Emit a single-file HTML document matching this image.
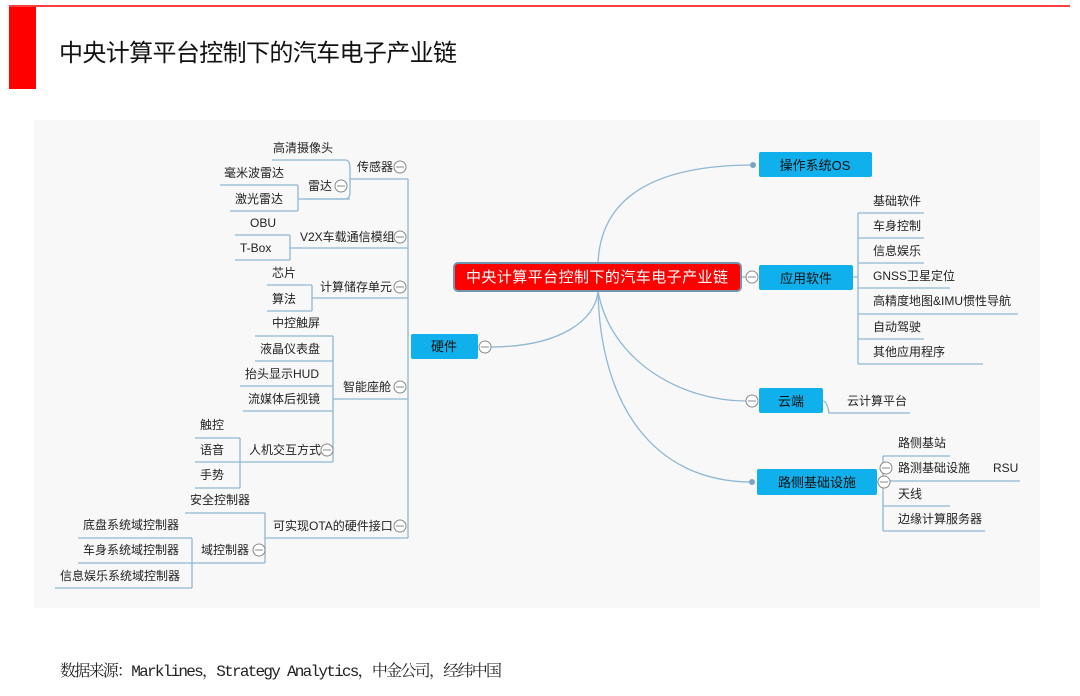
<!DOCTYPE html>
<html><head><meta charset="utf-8"><style>
html,body{margin:0;padding:0;background:#fff;width:1080px;height:696px;overflow:hidden}
svg{display:block}
text{font-family:"Liberation Sans","Noto Sans CJK SC",sans-serif;fill:#222}
.t{font-size:12px}
.b{font-size:13px;fill:#111}
</style></head><body>
<svg width="1080" height="696" viewBox="0 0 1080 696" xmlns="http://www.w3.org/2000/svg">
<rect x="9" y="6" width="27" height="83" fill="#ff0000"/>
<rect x="9" y="5" width="1061" height="2" fill="#ff4040"/>
<text x="59" y="61" style="font-size:24px;fill:#111" textLength="398">中央计算平台控制下的汽车电子产业链</text>
<rect x="34" y="120" width="1006" height="488" fill="#f8f8f8"/>

<g fill="none" stroke="#8fb8d4" stroke-width="1.3">
<path d="M598 264 C600 200,650 165,754 165"/>
<path d="M598 291 C596 320,560 347,490 347"/>
<path d="M741 277 L746 277"/>
<path d="M598 291 C610 360,680 401,746 401"/>
<path d="M598 291 C600 400,650 482,752 482"/>
<path d="M408 179 L408 538"/>
<path d="M345 160 L272 160 M345 160 Q350 160 350 168 L350 192 Q350 199 345 199 L305 199 M350 179 L408 179"/>
<path d="M298 185 L220 185 M298 211 L230 211 M298 185 L298 211 M298 199 L350 199"/>
<path d="M290 235 L235 235 M290 260 L235 260 M290 235 L290 260 M290 248 L408 248"/>
<path d="M312 285 L267 285 M312 311 L267 311 M312 285 L312 311 M312 298 L408 298"/>
<path d="M333 336 L255 336 M333 361 L255 361 M333 386 L240 386 M333 411 L243 411 M333 336 L333 462 M333 399 L408 399"/>
<path d="M240 438 L195 438 M240 462 L195 462 M240 488 L195 488 M240 438 L240 488 M240 462 L333 462"/>
<path d="M265 513 L185 513 M265 513 L265 563 M265 538 L408 538"/>
<path d="M192 538 L78 538 M192 563 L78 563 M192 588 L55 588 M192 538 L192 588 M192 563 L265 563"/>
<path d="M858 213 L924 213 M858 238 L924 238 M858 263 L924 263 M858 288 L950 288 M858 314 L1018 314 M858 339 L924 339 M858 364 L983 364 M858 213 L858 364 M853 277 L858 277"/>
<path d="M823 401 Q827 401 829 413 L910 413"/>
<path d="M883 456 L950 456 M883 481 L1020 481 M883 506 L950 506 M883 531 L985 531 M883 456 L883 531 M877 482 L883 482"/>
</g>
<g fill="#7aa6c4"><circle cx="753" cy="165" r="3"/><circle cx="752" cy="482" r="3"/></g>

<g fill="#fff" stroke="#888" stroke-width="1">
<circle cx="400" cy="167" r="6"/><circle cx="341" cy="186" r="6"/><circle cx="400" cy="237" r="6"/><circle cx="400" cy="287" r="6"/><circle cx="400" cy="387" r="6"/><circle cx="327" cy="450" r="6"/><circle cx="400" cy="526" r="6"/><circle cx="259" cy="550" r="6"/><circle cx="485" cy="347" r="6"/><circle cx="752" cy="277" r="6"/><circle cx="752" cy="401" r="6"/><circle cx="884" cy="482" r="6"/><circle cx="886" cy="468" r="6"/>
</g>
<g stroke="#888" stroke-width="1">
<path d="M396 167h8M337 186h8M396 237h8M396 287h8M396 387h8M323 450h8M396 526h8M255 550h8M481 347h8M748 277h8M748 401h8M880 482h8M882 468h8"/>
</g>

<rect x="454" y="263" width="287" height="28" rx="4" fill="#ff0000" stroke="#7394ad" stroke-width="2"/>
<text x="597" y="282" text-anchor="middle" style="font-size:15px;fill:#fff" textLength="262">中央计算平台控制下的汽车电子产业链</text>
<g fill="#0fb0ec">
<rect x="411" y="334" width="67" height="25" rx="2"/>
<rect x="759" y="152" width="113" height="25" rx="2"/>
<rect x="759" y="265" width="94" height="25" rx="2"/>
<rect x="759" y="388" width="64" height="25" rx="2"/>
<rect x="757" y="469" width="120" height="26" rx="2"/>
</g>
<g class="b" text-anchor="middle">
<text class="b" x="444" y="351" text-anchor="middle">硬件</text>
<text class="b" x="815" y="170" text-anchor="middle">操作系统OS</text>
<text class="b" x="806" y="283" text-anchor="middle">应用软件</text>
<text class="b" x="791" y="406" text-anchor="middle">云端</text>
<text class="b" x="817" y="487" text-anchor="middle">路侧基础设施</text>
</g>

<g class="t">
<text class="t" x="357" y="171">传感器</text>
<text class="t" x="308" y="190">雷达</text>
<text class="t" x="273" y="152">高清摄像头</text>
<text class="t" x="224" y="177">毫米波雷达</text>
<text class="t" x="235" y="203">激光雷达</text>
<text class="t" x="250" y="227">OBU</text>
<text class="t" x="240" y="252">T-Box</text>
<text class="t" x="300" y="241">V2X车载通信模组</text>
<text class="t" x="272" y="277">芯片</text>
<text class="t" x="272" y="303">算法</text>
<text class="t" x="320" y="291">计算储存单元</text>
<text class="t" x="272" y="327">中控触屏</text>
<text class="t" x="260" y="353">液晶仪表盘</text>
<text class="t" x="245" y="378">抬头显示HUD</text>
<text class="t" x="248" y="403">流媒体后视镜</text>
<text class="t" x="343" y="391">智能座舱</text>
<text class="t" x="200" y="429">触控</text>
<text class="t" x="200" y="454">语音</text>
<text class="t" x="200" y="479">手势</text>
<text class="t" x="249" y="454">人机交互方式</text>
<text class="t" x="190" y="504">安全控制器</text>
<text class="t" x="273" y="530">可实现OTA的硬件接口</text>
<text class="t" x="83" y="529">底盘系统域控制器</text>
<text class="t" x="83" y="554">车身系统域控制器</text>
<text class="t" x="60" y="580">信息娱乐系统域控制器</text>
<text class="t" x="201" y="554">域控制器</text>
<text class="t" x="873" y="205">基础软件</text>
<text class="t" x="873" y="230">车身控制</text>
<text class="t" x="873" y="255">信息娱乐</text>
<text class="t" x="873" y="280">GNSS卫星定位</text>
<text class="t" x="873" y="305">高精度地图&amp;IMU惯性导航</text>
<text class="t" x="873" y="331">自动驾驶</text>
<text class="t" x="873" y="356">其他应用程序</text>
<text class="t" x="847" y="405">云计算平台</text>
<text class="t" x="898" y="447">路侧基站</text>
<text class="t" x="898" y="472">路测基础设施</text>
<text class="t" x="993" y="472">RSU</text>
<text class="t" x="898" y="498">天线</text>
<text class="t" x="898" y="523">边缘计算服务器</text>
</g>

<text x="60" y="676" style="font-family:'Liberation Mono','Noto Serif CJK SC',monospace;font-size:16px;fill:#222" textLength="442">数据来源：Marklines，Strategy Analytics，中金公司，经纬中国</text>
</svg>
</body></html>
